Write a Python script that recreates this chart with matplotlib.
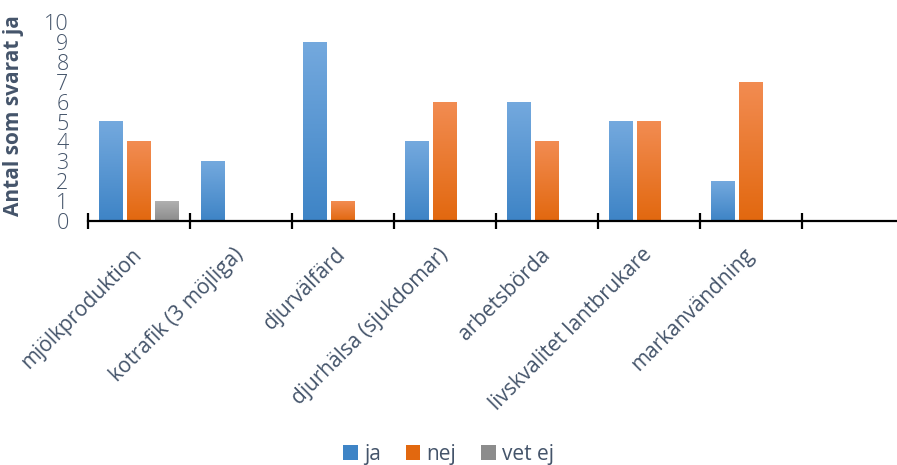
import numpy as np
import matplotlib
matplotlib.use('Agg')
import matplotlib.pyplot as plt
from matplotlib.patches import Patch

plt.rcParams['font.family'] = ['Open Sans', 'DejaVu Sans']

# data
kategorier = ['mjölkproduktion', 'kotrafik (3 möjliga)', 'djurvälfärd',
              'djurhälsa (sjukdomar)', 'arbetsbörda', 'livskvalitet lantbrukare',
              'markanvändning', '']
ja = [5, 3, 9, 4, 6, 5, 2, 0]
nej = [4, 0, 1, 6, 4, 5, 7, 0]
vet_ej = [1, 0, 0, 0, 0, 0, 0, 0]

serier = ['ja', 'nej', 'vet ej']
# (top colour, bottom colour) of the gradient
farger = [('#74a9de', '#3e84c6'), ('#f28c52', '#e2680f'), ('#b0b0b0', '#8c8c8c')]
textfarg = '#44546a'

fig = plt.figure(figsize=(8.97, 4.65), dpi=100)
ax = fig.add_axes([88 / 897, 244 / 465, 816 / 897, 199 / 465])

x = np.arange(len(kategorier))
bredd = 0.235
steg = 0.275


def gradient_bar(rektangel, topp, botten):
    grad = np.linspace(0, 1, 100).reshape(-1, 1)
    c1 = np.array(matplotlib.colors.to_rgb(topp))
    c2 = np.array(matplotlib.colors.to_rgb(botten))
    bild = c1 * (1 - grad[..., None]) + c2 * grad[..., None]
    bx, by = rektangel.get_x(), rektangel.get_y()
    bw, bh = rektangel.get_width(), rektangel.get_height()
    if bh <= 0:
        return
    im = ax.imshow(bild, extent=[bx, bx + bw, by, by + bh], aspect='auto',
                   origin='upper', zorder=2)
    im.set_clip_path(rektangel)


for i, (varden, (topp, botten)) in enumerate(zip([ja, nej, vet_ej], farger)):
    staplar = ax.bar(x + (i - 1) * steg, varden, bredd, color='none',
                     edgecolor='none', zorder=1)
    for s in staplar:
        gradient_bar(s, topp, botten)

ax.set_xlim(-0.5, 7.5)
ax.set_ylim(0, 10)

for side in ['top', 'right', 'left']:
    ax.spines[side].set_visible(False)
ax.spines['bottom'].set_linewidth(1.6)
ax.spines['bottom'].set_color('black')

ax.set_yticks(range(0, 11))
ax.tick_params(axis='y', length=0, pad=14, labelsize=15.5, labelcolor=textfarg)
for t in ax.get_yticklabels():
    t.set_fontweight('light')

# category boundaries as ticks crossing the axis
ax.set_xticks(np.arange(-0.5, 8.0, 1.0), minor=False)
ax.set_xticklabels([])
ax.tick_params(axis='x', which='major', direction='inout', length=11, width=1.6,
               color='black')
for xi, namn in zip(x, kategorier):
    ax.text(xi + 0.0, -1.55, namn, rotation=45, ha='right', va='center',
            rotation_mode='anchor', fontsize=15, color=textfarg)

ax.set_ylabel('Antal som svarat ja', fontsize=15, fontweight='bold',
              color=textfarg)
ax.yaxis.set_label_coords(-64 / 816, 0.53)

handtag = [Patch(facecolor=botten, edgecolor='none') for _, botten in farger]
fig.legend(handtag, serier, loc='center', bbox_to_anchor=(0.5, 11 / 465),
           ncol=3, frameon=False, fontsize=15, handlelength=0.7, handleheight=0.7,
           handletextpad=0.3, columnspacing=1.2, labelcolor=textfarg)

fig.savefig('out.png', dpi=100)
